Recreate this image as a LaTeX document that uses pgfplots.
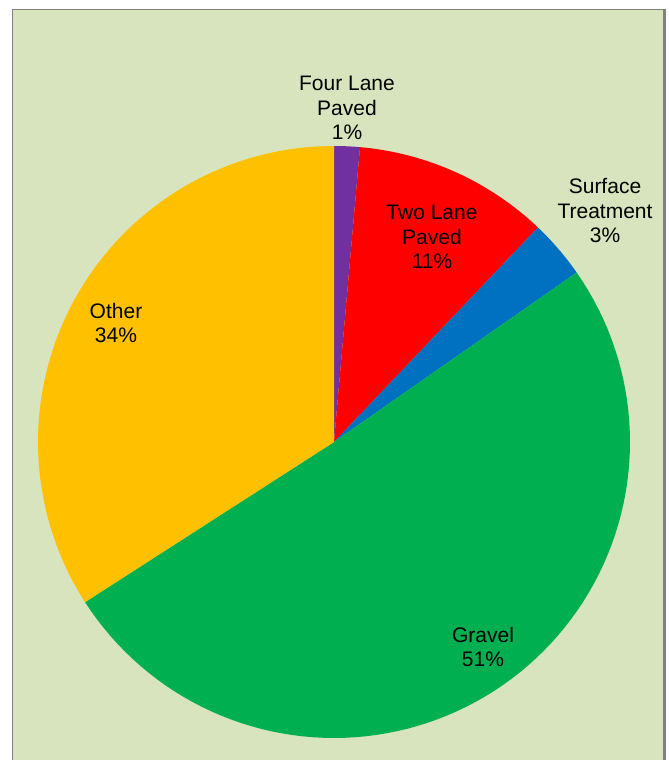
\documentclass[border=0pt]{standalone}
\usepackage{pgfplots}
\pgfplotsset{compat=1.18}
\usepackage{fontspec}
\setmainfont{Liberation Sans}
\definecolor{bg}{HTML}{D7E4BD}
\definecolor{cpurple}{HTML}{7030A0}
\definecolor{cred}{HTML}{FF0000}
\definecolor{cblue}{HTML}{0070C0}
\definecolor{cgreen}{HTML}{00B050}
\definecolor{corange}{HTML}{FFC000}
\definecolor{frame}{HTML}{808080}
% slice: colour, cumulative share before the slice (%), share (%)
\newcommand\slice[3]{%
  \pgfmathsetmacro\aEnd{90-3.6*(#2)}%
  \pgfmathsetmacro\aStart{90-3.6*((#2)+(#3))}%
  \addplot[fill=#1, draw=none, domain=\aStart:\aEnd, samples=90, variable=\t]
    ({334+296*cos(\t)}, {318+296*sin(\t)}) -- (axis cs:334,318) -- cycle;
}
\begin{document}
\begin{tikzpicture}[x=1pt,y=1pt]
  \path[use as bounding box, fill=white] (0,0) rectangle (669,760);
  \fill[bg] (12.5,0) rectangle (664,750.5);
  \draw[frame, line width=1.6pt] (12.5,0) -- (12.5,750.5) -- (664,750.5);
  \draw[frame, line width=2.8pt] (664.5,0) -- (664.5,750.5);
  \begin{axis}[at={(0,0)}, anchor=origin, scale only axis, width=669pt, height=760pt,
      xmin=0, xmax=669, ymin=0, ymax=760, hide axis, clip=false]
    % shares of the road network (%)
    \slice{cpurple}{0}{1.4}
    \slice{cred}{1.4}{10.7}
    \slice{cblue}{12.1}{3.2}
    \slice{cgreen}{15.3}{50.6}
    \slice{corange}{65.9}{34.1}
    \begin{scope}[every node/.style={align=center, font=\fontsize{21}{24.5}\selectfont, text=black}]
      \node at (axis cs:347,652) {Four Lane\\Paved\\1\%};
      \node at (axis cs:432,523) {Two Lane\\Paved\\11\%};
      \node at (axis cs:605,549) {Surface\\Treatment\\3\%};
      \node at (axis cs:116,437) {Other\\34\%};
      \node at (axis cs:483,113) {Gravel\\51\%};
    \end{scope}
  \end{axis}
\end{tikzpicture}
\end{document}
